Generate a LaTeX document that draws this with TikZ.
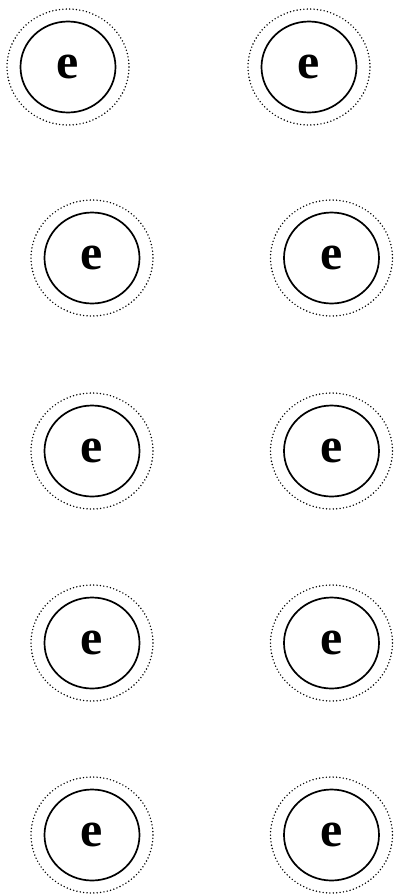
\documentclass[tikz,border=0pt]{standalone}
\usepackage{fontspec}
\setmainfont{Liberation Serif}
\usetikzlibrary{shapes.geometric}
\begin{document}
\begin{tikzpicture}[x=1pt,y=-1pt,
  state/.style={draw, ellipse, line width=1.7pt, inner sep=0pt,
    minimum width=95pt, minimum height=91pt,
    font=\fontsize{50}{50}\selectfont\bfseries},
  halo/.style={draw, ellipse, line width=1.6pt, line cap=round,
    dash pattern=on 0pt off 3.4pt, inner sep=0pt,
    minimum width=122pt, minimum height=116pt}]
\useasboundingbox (0,0) rectangle (396,895);
% row 1
\node[halo] (h1l) at (68,67) {};
\node[state] (s1l) at (68,67) {e};
\node[halo] (h1r) at (309,67) {};
\node[state] (s1r) at (309,67) {e};
% row 2
\node[halo] (h2l) at (92,258) {};
\node[state] (s2l) at (92,258) {e};
\node[halo] (h2r) at (331.5,258) {};
\node[state] (s2r) at (331.5,258) {e};
% row 3
\node[halo] (h3l) at (92,451) {};
\node[state] (s3l) at (92,451) {e};
\node[halo] (h3r) at (331.5,451) {};
\node[state] (s3r) at (331.5,451) {e};
% row 4
\node[halo] (h4l) at (92,643) {};
\node[state] (s4l) at (92,643) {e};
\node[halo] (h4r) at (331.5,643) {};
\node[state] (s4r) at (331.5,643) {e};
% row 5
\node[halo] (h5l) at (92,835) {};
\node[state] (s5l) at (92,835) {e};
\node[halo] (h5r) at (331.5,835) {};
\node[state] (s5r) at (331.5,835) {e};
\end{tikzpicture}
\end{document}
